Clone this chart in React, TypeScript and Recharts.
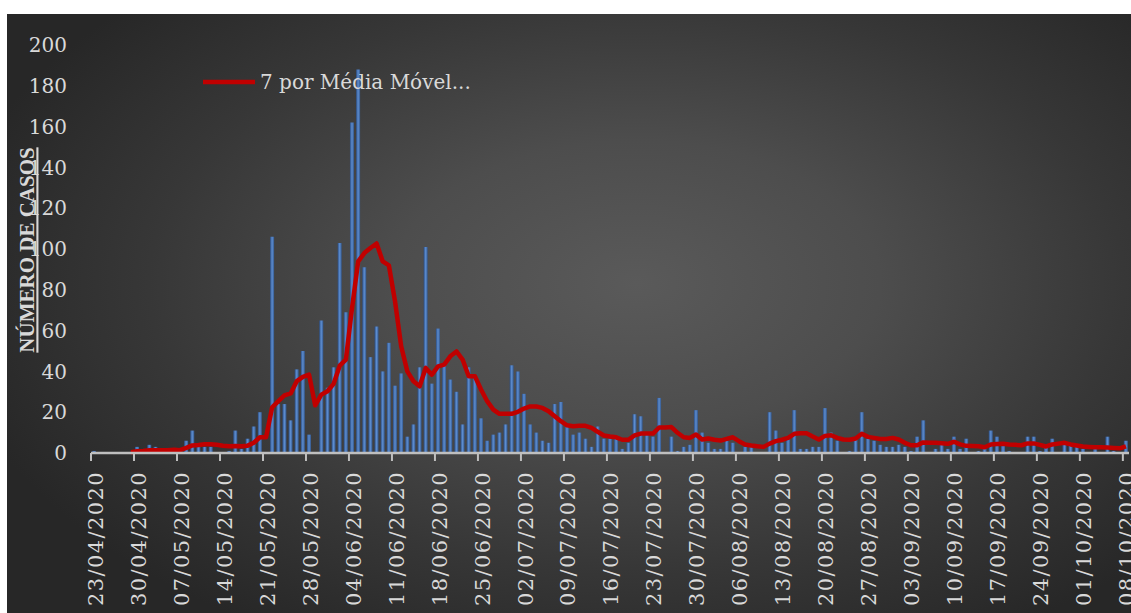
import { ComposedChart, Bar, Line, XAxis, YAxis } from "recharts";

// daily cases, 23/04/2020 .. 08/10/2020
const casos = [
  1, 0, 0, 0, 0, 0, 0, 3, 0, 4,
  3, 0, 0, 1, 0, 6, 11, 3, 3, 3,
  0, 0, 1, 11, 2, 7, 13, 20, 0, 106,
  24, 24, 16, 41, 50, 9, 0, 65, 32, 42,
  103, 69, 162, 188, 91, 47, 62, 40, 54, 33,
  39, 8, 14, 42, 101, 34, 61, 43, 36, 30,
  14, 42, 38, 17, 6, 9, 10, 14, 43, 40,
  29, 14, 10, 6, 5, 24, 25, 13, 9, 10,
  7, 3, 13, 7, 7, 7, 2, 5, 19, 18,
  9, 8, 27, 0, 8, 1, 3, 4, 21, 10,
  5, 2, 2, 6, 5, 0, 3, 3, 0, 0,
  20, 11, 5, 8, 21, 2, 2, 3, 3, 22,
  10, 6, 0, 1, 7, 20, 7, 6, 4, 3,
  3, 4, 3, 1, 8, 16, 0, 2, 4, 2,
  8, 2, 7, 0, 1, 2, 11, 8, 4, 1,
  0, 0, 8, 8, 1, 4, 7, 0, 4, 4,
  3, 2, 0, 3, 0, 8, 1, 0, 6,
];

// 7-period moving average as drawn
const mediaMovel = [
  null, null, null, null, null, null, 0.4, 0.9, 1.0, 1.4,
  1.4, 1.4, 1.4, 1.6, 1.4, 2.5, 3.7, 3.9, 4.3, 4.3,
  4.0, 3.6, 3.3, 3.4, 3.3, 3.6, 5.0, 7.7, 7.7, 22.4,
  25.4, 28.2, 29.2, 35.2, 37.3, 38.4, 23.4, 28.6, 30.3, 33.9,
  42.8, 45.8, 71.1, 93.9, 98, 100.5, 102.7, 93.9, 92, 74.3,
  52.3, 40, 35.2, 32.7, 41.7, 38.4, 42.5, 43.3, 47.4, 49.8,
  45.8, 37.6, 37.6, 31.1, 25.4, 21.3, 19.2, 19.2, 19.2, 20.2,
  21.8, 22.8, 22.8, 22.1, 20.5, 18, 15.6, 13.6, 13.1, 13.3,
  13.3, 12.3, 10.4, 8.6, 8.1, 7.7, 6.5, 6.5, 8.6, 9.5,
  9.5, 9.5, 12.5, 12.5, 12.7, 9.9, 7.7, 7.4, 9.1, 6.6,
  7.1, 6.5, 6.1, 6.9, 7.7, 5.8, 4.2, 3.7, 3.3, 3.0,
  4.6, 5.8, 6.5, 7.4, 9.4, 9.7, 9.7, 8.1, 6.6, 8.4,
  8.7, 7.4, 6.6, 6.5, 7.1, 9.4, 7.9, 7.4, 6.9, 6.9,
  7.4, 6.6, 5.0, 3.8, 3.8, 5.2, 5.0, 5.0, 4.8, 4.5,
  5.5, 4.2, 3.5, 3.4, 3.3, 2.8, 4.2, 4.4, 4.5, 4.2,
  4.0, 3.8, 4.7, 4.7, 4.0, 3.2, 4.2, 4.6, 5.0, 4.2,
  3.7, 3.2, 3.0, 2.8, 2.8, 2.7, 2.5, 2.3, 3.3,
];

const weekLabels = [
  "23/04/2020", "30/04/2020", "07/05/2020", "14/05/2020", "21/05/2020",
  "28/05/2020", "04/06/2020", "11/06/2020", "18/06/2020", "25/06/2020",
  "02/07/2020", "09/07/2020", "16/07/2020", "23/07/2020", "30/07/2020",
  "06/08/2020", "13/08/2020", "20/08/2020", "27/08/2020", "03/09/2020",
  "10/09/2020", "17/09/2020", "24/09/2020", "01/10/2020", "08/10/2020",
];

const yTicks = [0, 20, 40, 60, 80, 100, 120, 140, 160, 180, 200];

const data = casos.map((c, i) => ({ dia: i + 0.5, casos: c, media: mediaMovel[i] }));
const xTicks = weekLabels.map((_, k) => k * 7);

const FONT = "'DejaVu Serif', serif";
const TEXT = "#d9d9d9";

function DateTick(props: any) {
  const { x, y, payload } = props;
  return (
    <text
      transform={`translate(${x + 4},${y}) rotate(-90)`}
      textAnchor="end"
      dy="0.36em"
      fill={TEXT}
      fontSize={21}
      fontFamily={FONT}
      letterSpacing={1.4}
    >
      {weekLabels[Math.round(payload.value / 7)]}
    </text>
  );
}

export default function App() {
  return (
    <div
      style={{
        position: "absolute",
        left: 7,
        top: 14,
        width: 1124,
        height: 599,
        background: "radial-gradient(ellipse 62% 68% at 56% 45%, #5a5a5a 0%, #4d4d4d 35%, #373737 70%, #272727 100%)",
      }}
    >
      <ComposedChart width={1124} height={599} data={data} margin={{ top: 31, right: 2, bottom: 0, left: 24 }}>
        <defs>
          <linearGradient id="cyl" x1="0" y1="0" x2="1" y2="0">
            <stop offset="0%" stopColor="#2c4f85" />
            <stop offset="50%" stopColor="#5d8dd0" />
            <stop offset="100%" stopColor="#34598f" />
          </linearGradient>
        </defs>
        <XAxis
          dataKey="dia"
          type="number"
          domain={[0, 169]}
          ticks={xTicks}
          interval={0}
          height={160}
          axisLine={{ stroke: "#bfbfbf", strokeWidth: 2.5 }}
          tickLine={{ stroke: "#bfbfbf", strokeWidth: 2 }}
          tickSize={8}
          tickMargin={10}
          tick={<DateTick />}
        />
        <YAxis
          domain={[0, 200]}
          ticks={yTicks}
          interval={0}
          width={60}
          axisLine={false}
          tickLine={false}
          tickMargin={18}
          tick={{ fill: TEXT, fontSize: 20, fontFamily: FONT }}
        />
        <Bar dataKey="casos" barSize={4} fill="url(#cyl)" isAnimationActive={false} />
        <Line
          dataKey="media"
          type="linear"
          stroke="#c00000"
          strokeWidth={4.5}
          strokeLinejoin="round"
          dot={false}
          isAnimationActive={false}
        />
      </ComposedChart>
      <svg
        width={60}
        height={400}
        style={{ position: "absolute", left: 0, top: 36, pointerEvents: "none" }}
      >
        <text
          transform="translate(20,200) rotate(-90)"
          textAnchor="middle"
          dy="0.35em"
          fill={TEXT}
          fontSize={21}
          fontWeight="bold"
          fontFamily="'Liberation Serif', serif"
          textDecoration="underline"
        >
          NÚMERO DE CASOS
        </text>
      </svg>
      <div
        style={{
          position: "absolute",
          left: 196,
          top: 56,
          display: "flex",
          alignItems: "center",
          fontFamily: FONT,
          fontSize: 20,
          color: TEXT,
          whiteSpace: "nowrap",
        }}
      >
        <svg width={54} height={10}>
          <line x1={0} y1={5} x2={52} y2={5} stroke="#c00000" strokeWidth={4.5} />
        </svg>
        <span style={{ marginLeft: 3 }}>7 por Média Móvel...</span>
      </div>
    </div>
  );
}
